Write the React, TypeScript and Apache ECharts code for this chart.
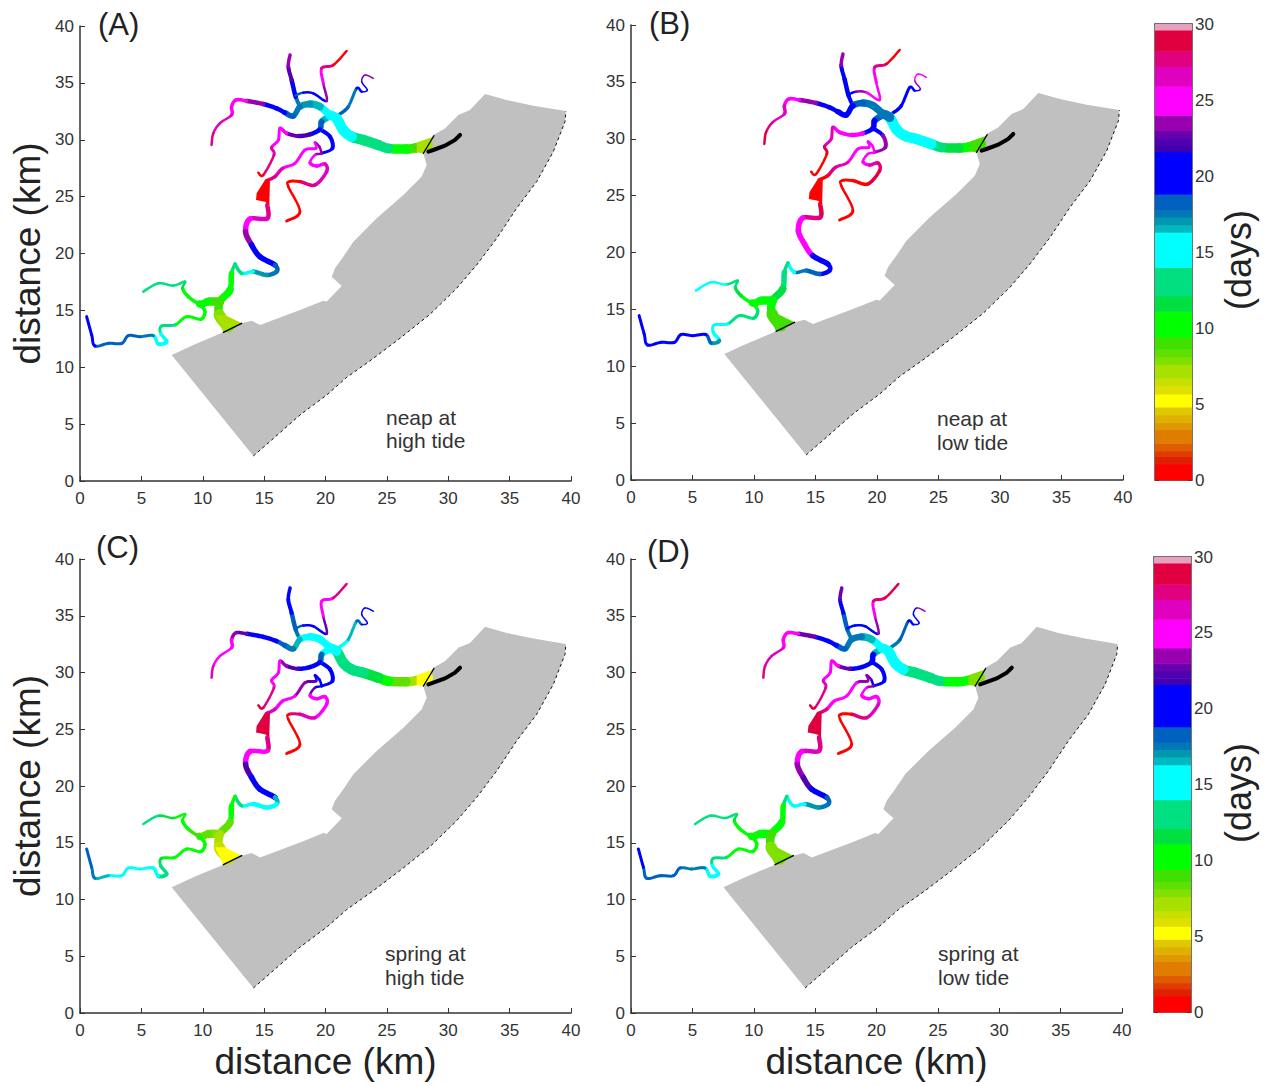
import React, { useEffect, useRef } from "react";
import * as echarts from "echarts";

const axisTicks = 5;
const panelNames = ["(A)", "(B)", "(C)", "(D)"];
const noteLines = [["neap at", "high tide"], ["neap at", "low tide"], ["spring at", "high tide"], ["spring at", "low tide"]];

// colour scale: lower edge of every band in days, and its colour
const bandEdges = [0, 1.05, 1.54, 1.93, 2.41, 3.33, 3.8, 4.3, 4.8, 5.66, 6.2, 6.7, 7.6, 8.1, 8.6, 9.4, 11.1, 12.1, 14, 16.3, 16.8, 17.3, 17.8, 18.8, 21.6, 22, 22.5, 23, 24, 25.9, 27.2, 28.2, 29.6, 30];
const bandColors = ["#ff0000", "#e02000", "#e03c00", "#e05c00", "#e07c00", "#e09800", "#e0b000", "#e0c800", "#ffff00", "#e0e000", "#c8e000", "#a8e000", "#80e000", "#60e000", "#40e000", "#00ff00", "#00e040", "#00e080", "#00ffff", "#00b8c0", "#0098b0", "#0078b8", "#0060c0", "#0000ff", "#4000b0", "#5000b0", "#6800b0", "#9800b0", "#ff00ff", "#e000c0", "#e00080", "#e00040", "#e8a0c0"];

// sea area outline, km
const seaEdge = [[14.12, 2.2], [15.62, 3.61], [17.92, 5.8], [20.1, 7.56], [21.73, 9.11], [23.9, 10.78], [26.07, 12.55], [28.51, 14.65], [30.69, 16.94], [32.32, 19.0], [33.95, 21.33], [35.57, 23.97], [37.2, 26.31], [38.56, 28.95], [39.51, 31.59], [39.59, 32.52]];
const seaCoast = [[36.93, 33.0], [34.76, 33.49], [33.0, 34.02], [31.77, 32.61], [30.82, 32.17], [29.73, 31.0], [28.78, 30.42], [27.97, 28.8], [28.24, 27.78], [27.83, 26.75], [26.34, 25.14], [24.17, 23.09], [22.27, 21.04], [21.45, 19.72], [20.77, 18.7], [20.5, 17.96], [21.32, 17.15], [20.1, 15.77], [19.83, 15.85], [17.92, 15.03], [14.67, 13.71], [13.99, 14.09], [13.17, 13.86], [11.68, 13.07], [9.23, 11.96], [7.47, 11.08]];
const seaOutline = [...seaEdge, ...seaCoast];

// river reaches: path in km, width per segment, days per segment for panels A B C D
const eastMainPath = [[28.38, 29.54], [27.43, 29.3], [26.56, 29.18], [25.12, 29.24], [24.3, 29.54], [23.08, 29.98], [22.13, 30.27], [21.45, 30.85], [20.9, 31.88], [20.36, 32.17]];
const eastMainWidth = [9, 9, 9, 9.5, 10, 10, 10, 10, 9];
const eastMainDays = [[7.5, 9, 10, 12.5, 13, 13.5, 15, 15, 15], [9, 10, 12, 13, 15, 15, 15, 15, 17.5], [5.5, 7.5, 8.5, 10, 12, 13, 13.5, 13, 15], [8, 9.5, 10, 12.2, 13, 13, 15, 15, 15]];

const northWestPath = [[20.36, 32.17], [19.55, 32.91], [18.74, 33.14], [17.92, 32.91], [17.38, 32.09], [16.7, 32.38], [16.02, 32.76], [14.93, 33.14], [13.58, 33.41], [12.71, 33.5], [12.35, 32.91], [12.35, 32.18], [11.4, 31.45], [10.86, 30.57], [10.72, 29.54]];
const northWestWidth = [7, 7, 6, 5, 5, 4, 4, 4, 3, 3, 3, 2, 2, 2];
const northWestDays = [[15, 16.5, 17, 17.5, 18.5, 20, 21, 23, 25, 25, 25, 26, 27, 28], [17.5, 17.5, 18.5, 20, 20, 20, 21, 23, 25, 25.5, 26, 27, 28, 29], [15, 15, 15.5, 16.5, 17.5, 18, 19, 20, 22.5, 23.5, 24.5, 25, 25, 26], [15, 16.5, 17.3, 17.5, 18, 20, 20, 22.5, 24.5, 25, 25, 26.5, 27, 28]];

const northOnePath = [[17.92, 32.91], [17.57, 33.79], [17.24, 35.25], [16.97, 36.43], [17.11, 37.45]];
const northOneWidth = [3.5, 4, 3.5, 3];
const northOneDays = [[17.5, 19, 22, 23], [20, 20, 20.5, 23.5], [17.5, 17.8, 19.5, 20], [17.5, 18, 20, 22.5]];

const northTwoPath = [[17.57, 33.9], [18.19, 34.14], [19.0, 34.08], [20.09, 33.41], [19.82, 34.96], [19.69, 36.28], [20.64, 36.57], [21.72, 37.8]];
const northTwoWidth = [2, 2, 2, 2, 2.5, 2.5, 2];
const northTwoDays = [[18, 19.5, 21, 23.5, 25.5, 28, 0.5], [21, 23, 24.5, 25.5, 25, 28, 0.5], [18, 19, 20.5, 22.5, 25, 25.5, 28], [19.5, 20, 20.5, 23, 25, 27.5, 28.5]];

const northEastPath = [[21.18, 32.27], [21.86, 32.91], [22.54, 34.52], [22.95, 34.23], [23.41, 34.37], [22.95, 35.11], [23.22, 35.69], [23.9, 35.4]];
const northEastWidth = [3, 2.5, 2, 1, 1, 1, 1];
const northEastDays = [[18, 17.5, 20, 20, 21, 22.8, 23.5], [20, 20, 20, 20.5, 23, 24, 25], [15.5, 16.5, 18, 20, 20, 20, 21], [17.5, 18, 19, 20, 21, 21.5, 23]];

const southOnePath = [[20.37, 32.09], [19.69, 31.59], [19.55, 30.92], [18.74, 30.48], [17.79, 30.33], [16.84, 30.57], [16.29, 31.0], [16.16, 29.98], [15.61, 29.31], [15.8, 28.66], [14.93, 26.9], [14.53, 27.1]];
const southOneWidth = [6, 5, 4, 4, 3.5, 3, 2.5, 2.5, 2.5, 2, 2];
const southOneDays = [[16.5, 18.5, 20, 21.7, 22.5, 24, 25, 25.5, 26.5, 28, 0.5], [18, 20, 20, 24.5, 25, 25.5, 26.5, 27, 28.5, 0.5, 0.5], [15.5, 18, 20, 20, 22, 23.5, 25, 25, 25.5, 27.5, 28.5], [16.6, 19, 20, 20.5, 22.5, 24.5, 25, 25, 26, 27.5, 28.5]];

const southTwoPath = [[19.55, 30.92], [20.37, 30.27], [20.56, 29.25], [19.69, 28.81], [19.14, 28.66], [18.74, 27.99], [19.28, 27.69], [19.96, 27.87], [20.09, 27.2], [19.14, 26.02], [17.92, 26.32], [17.05, 26.32], [16.97, 25.88], [17.92, 23.68], [16.84, 22.86]];
const southTwoWidth = [3.5, 3.5, 2.5, 2, 2, 3, 3, 3, 3, 3, 2.5, 2, 2, 2.5];
const southTwoDays = [[20, 20, 21, 23, 24.5, 25, 25.5, 26, 27, 28, 0.5, 0.5, 0.5, 0.5], [20.5, 23, 23.5, 24.5, 25, 25.5, 26.5, 27.5, 28.5, 0.5, 0.5, 0.5, 0.5, 0.5], [19, 20, 20, 21, 22.5, 24, 25, 25, 25, 26, 28, 0.5, 0.5, 0.5], [20, 20, 20.5, 23, 24.5, 25, 25, 25, 26.5, 27.5, 0.5, 0.5, 0.5, 0.5]];

const southThreePath = [[19.69, 28.81], [19.5, 29.39], [19.14, 29.75], [19.23, 29.25], [18.33, 29.1], [17.51, 27.93], [16.51, 27.49], [15.88, 26.76], [15.2, 26.4]];
const southThreeWidth = [2, 2, 2, 2.5, 2.5, 2.5, 3, 3];
const southThreeDays = [[23, 23, 24, 25, 25, 25.5, 26, 28], [24, 24.5, 25, 25.5, 25.5, 26, 28, 0.5], [20, 20, 20.5, 22.5, 23, 24.5, 25, 27], [21, 22.5, 23, 23.5, 24.5, 25, 25.5, 28]];

const middlePath = [[15.26, 24.27], [15.26, 23.09], [13.85, 23.04], [13.49, 21.92], [13.98, 20.75], [14.66, 19.72], [15.88, 18.99], [16.02, 18.41], [15.2, 18.11], [14.12, 18.41], [13.17, 18.26], [12.63, 19.08]];
const middleWidth = [4, 4, 5, 5, 5, 5, 4, 4, 4, 3, 3];
const middleDays = [[28, 26.5, 25, 23.3, 21, 19.5, 18, 17.5, 16.8, 15, 13], [28.5, 27.5, 25.5, 25, 24, 20, 20, 19, 18.5, 17.5, 15], [27.5, 25.5, 24.5, 22, 21, 20, 16.7, 15, 15, 15, 13.5], [28, 26.5, 25, 23.5, 22, 20, 18, 17.5, 17, 15, 14]];

const southEstuaryPath = [[12.63, 19.08], [12.35, 18.26], [12.22, 16.8], [11.4, 15.77], [11.35, 14.6], [12.08, 13.57]];
const southEstuaryWidth = [3, 5, 7, 8, 11];
const southEstuaryDays = [[12.5, 10, 10, 9, 8], [13, 12.5, 11.5, 10, 9], [11, 10, 8.5, 7.5, 6.5], [13.5, 10, 10, 9, 8]];

const westOnePath = [[11.4, 15.77], [10.45, 15.77], [9.77, 15.56], [8.82, 16.21], [8.36, 16.94], [8.55, 17.53], [7.6, 17.18], [6.38, 17.38], [5.16, 16.65]];
const westOneWidth = [8, 7, 3, 3, 2, 2, 2, 2];
const westOneDays = [[9, 9.5, 10, 10.5, 11.5, 12.5, 13, 13.5], [10, 10, 10, 11.5, 12.5, 13, 15, 15.5], [8, 8.5, 9, 10, 10, 10.5, 11.5, 12.5], [10, 10, 10, 11, 11.5, 12.5, 12.8, 13.5]];

const westTwoPath = [[9.77, 15.56], [10.18, 14.89], [9.83, 14.22], [8.69, 14.45], [7.74, 13.72], [6.65, 13.63], [6.57, 12.99], [7.06, 12.25], [6.38, 12.05], [5.97, 12.78], [4.89, 12.69], [3.94, 12.78], [3.4, 12.1], [2.31, 12.1], [1.22, 11.87], [0.95, 12.84], [0.54, 14.45]];
const westTwoWidth = [3, 3, 2.5, 2.5, 2.5, 2.5, 3, 3.5, 3, 2.5, 2.5, 2.5, 2.5, 2.5, 2.5, 2.5];
const westTwoDays = [[10, 10, 10.5, 11, 13, 13.5, 14.5, 15, 15.5, 17.5, 18, 18.2, 18.5, 18.5, 20, 20.5], [11, 12.5, 13, 13, 14, 15, 15, 17, 18, 19, 20, 20, 20, 20, 20, 20], [9.5, 10, 10.5, 10, 10.5, 12, 13, 13.5, 15, 15, 15, 15, 15, 16.5, 17.5, 18], [10, 10, 10, 11, 12.5, 13, 14, 15, 15.5, 17.5, 17.5, 17.8, 18, 18, 18.5, 20]];

const reaches = [
  [westOnePath, westOneWidth, westOneDays],
  [westTwoPath, westTwoWidth, westTwoDays],
  [middlePath, middleWidth, middleDays],
  [southEstuaryPath, southEstuaryWidth, southEstuaryDays],
  [northOnePath, northOneWidth, northOneDays],
  [northTwoPath, northTwoWidth, northTwoDays],
  [northEastPath, northEastWidth, northEastDays],
  [southThreePath, southThreeWidth, southThreeDays],
  [southTwoPath, southTwoWidth, southTwoDays],
  [southOnePath, southOneWidth, southOneDays],
  [northWestPath, northWestWidth, northWestDays],
  [eastMainPath, eastMainWidth, eastMainDays],
] as const;

// filled water bodies: outline in km and days for panels A B C D
const lakeOutline = [[15.07, 26.46], [15.48, 26.52], [15.42, 24.27], [15.07, 24.56], [14.34, 24.71], [14.39, 25.29]];
const lakeDays = [0.5, 0.5, 29, 29];
const southMouthOutline = [[11.0, 14.6], [11.81, 14.6], [13.17, 13.86], [11.68, 13.07]];
const southMouthDays = [7, 8.8, 5.5, 7.6];
const eastMouthOutline = [[28.78, 30.27], [27.97, 28.8], [27.43, 28.9], [27.43, 29.75]];
const eastMouthDays = [7.2, 9, 5.5, 8];

const blackLines = [
  [[11.68, 13.07], [13.17, 13.86]],
  [[27.97, 28.8], [28.84, 30.36]],
  [[28.38, 28.95], [28.78, 29.1], [29.73, 29.48], [30.55, 29.98], [30.96, 30.42]],
];
const blackWidths = [1.5, 1.2, 4];

const dayColor = (v: number) => {
  for (let i = bandColors.length - 1; i >= 0; i--) if (v >= bandEdges[i]) return bandColors[i];
  return bandColors[0];
};

const FONT = "Liberation Sans";
const INK = "#333";
const panels = [
  { left: 80, top: 26, width: 491, height: 455, tag: [98, 24], note: [386, 417, 440], shift: 0, xName: false, yName: true },
  { left: 631, top: 25, width: 492, height: 455, tag: [649, 23], note: [937, 418, 442], shift: 0.12, xName: false, yName: false },
  { left: 80, top: 559, width: 491, height: 454, tag: [96, 547], note: [385, 953, 977], shift: 0, xName: true, yName: true },
  { left: 631, top: 559, width: 491, height: 454, tag: [647, 551], note: [938, 953, 977], shift: 0.06, xName: true, yName: false },
];
const bars = [
  { left: 1155, top: 24, width: 37, height: 456 },
  { left: 1154, top: 557, width: 37, height: 455 },
];

// rounded curve through a river segment, drawn from its neighbours on screen
const curve = (a: number[], b: number[], c: number[], d: number[]) => {
  const out: number[][] = [];
  for (let s = 0; s <= 8; s++) {
    const t = s / 8;
    const t2 = t * t;
    const t3 = t2 * t;
    out.push([0, 1].map((n) => 0.5 * (2 * b[n] + (c[n] - a[n]) * t + (2 * a[n] - 5 * b[n] + 4 * c[n] - d[n]) * t2 + (3 * b[n] - a[n] - 3 * c[n] + d[n]) * t3)));
  }
  return out;
};

function buildOption() {
  const grid: any[] = [];
  const xAxis: any[] = [];
  const yAxis: any[] = [];
  const series: any[] = [];
  const graphic: any[] = [];

  panels.forEach((p, i) => {
    grid.push({ left: p.left, top: p.top, width: p.width, height: p.height, outerBoundsMode: "none" });
    const common = {
      gridIndex: i,
      type: "value",
      min: 0,
      max: 40,
      interval: axisTicks,
      splitLine: { show: false },
      axisTick: { inside: true, length: 5, lineStyle: { color: INK, width: 1 } },
      axisLine: { onZero: false, lineStyle: { color: INK, width: 1.5 } },
      nameLocation: "middle",
      nameTextStyle: { color: "#222", fontFamily: FONT, fontSize: 37 },
    };
    const label = { color: INK, fontFamily: FONT, fontSize: 17, hideOverlap: false };
    xAxis.push({ ...common, axisLabel: { ...label, margin: 9 }, name: p.xName ? "distance (km)" : "", nameGap: 30 });
    yAxis.push({ ...common, axisLabel: { ...label, margin: 6 }, name: p.yName ? "distance (km)" : "", nameGap: 34 });

    const sx = p.shift;
    series.push({
      type: "custom",
      xAxisIndex: i,
      yAxisIndex: i,
      clip: false,
      silent: true,
      z: 2,
      data: seaOutline,
      encode: { x: 0, y: 1 },
      renderItem: (params: any, api: any) =>
        params.dataIndex === 0
          ? { type: "polygon", shape: { points: seaOutline.map((q) => api.coord([q[0] + sx, q[1]])) }, style: { fill: "#c0c0c0" } }
          : null,
    });
    series.push({
      type: "line",
      xAxisIndex: i,
      yAxisIndex: i,
      silent: true,
      z: 3,
      showSymbol: false,
      data: seaEdge.map((q) => [q[0] + sx, q[1]]),
      lineStyle: { color: "#111", width: 1, type: [3, 3] },
    });

    const rows: number[][] = [];
    reaches.forEach(([path, width, days]) => {
      for (let k = 0; k + 1 < path.length; k++) {
        const a = path[Math.max(0, k - 1)];
        const b = path[k];
        const c = path[k + 1];
        const d = path[Math.min(path.length - 1, k + 2)];
        rows.push([b[0] + sx, b[1], c[0] + sx, c[1], days[i][k], width[k], a[0] + sx, a[1], d[0] + sx, d[1]]);
      }
    });
    series.push({
      type: "custom",
      xAxisIndex: i,
      yAxisIndex: i,
      clip: false,
      silent: true,
      z: 4,
      data: rows,
      encode: { x: [0, 2], y: [1, 3] },
      renderItem: (_: any, api: any) => ({
        type: "polyline",
        shape: {
          points: curve(
            api.coord([api.value(6), api.value(7)]),
            api.coord([api.value(0), api.value(1)]),
            api.coord([api.value(2), api.value(3)]),
            api.coord([api.value(8), api.value(9)])
          ),
        },
        style: { fill: null, stroke: dayColor(api.value(4)), lineWidth: api.value(5) + 0.5, lineCap: "round", lineJoin: "round" },
      }),
    });

    const blobs = [
      [lakeOutline, lakeDays[i]],
      [southMouthOutline, southMouthDays[i]],
      [eastMouthOutline, eastMouthDays[i]],
    ] as const;
    series.push({
      type: "custom",
      xAxisIndex: i,
      yAxisIndex: i,
      clip: false,
      silent: true,
      z: 5,
      data: blobs.map((b) => [b[0][0][0], b[0][0][1]]),
      encode: { x: 0, y: 1 },
      renderItem: (params: any, api: any) => {
        const b = blobs[params.dataIndex];
        return { type: "polygon", shape: { points: b[0].map((q) => api.coord([q[0] + sx, q[1]])) }, style: { fill: dayColor(b[1]) } };
      },
    });
    series.push({
      type: "custom",
      xAxisIndex: i,
      yAxisIndex: i,
      clip: false,
      silent: true,
      z: 6,
      data: blackLines.map((b) => [b[0][0], b[0][1]]),
      encode: { x: 0, y: 1 },
      renderItem: (params: any, api: any) => ({
        type: "polyline",
        shape: { points: blackLines[params.dataIndex].map((q) => api.coord([q[0] + sx, q[1]])) },
        style: { fill: null, stroke: "#000", lineWidth: blackWidths[params.dataIndex], lineCap: "round" },
      }),
    });

    graphic.push({ type: "text", x: p.tag[0], y: p.tag[1], style: { text: panelNames[i], font: `31px "${FONT}"`, fill: "#222", verticalAlign: "middle" } });
    noteLines[i].forEach((t, n) => {
      graphic.push({ type: "text", x: p.note[0], y: p.note[n + 1], style: { text: t, font: `21px "${FONT}"`, fill: "#333", verticalAlign: "middle" } });
    });
  });

  bars.forEach((b, j) => {
    const g = panels.length + j;
    grid.push({ left: b.left, top: b.top, width: b.width, height: b.height, outerBoundsMode: "none" });
    const axisX = { gridIndex: g, type: "value", min: 0, max: 1, show: true, axisLabel: { show: false }, axisTick: { show: false }, splitLine: { show: false }, axisLine: { onZero: false, lineStyle: { color: "#444", width: 1.5 } } };
    xAxis.push({ ...axisX, position: "bottom" });
    xAxis.push({ ...axisX, position: "top" });
    const axisY = {
      gridIndex: g,
      type: "value",
      min: 0,
      max: 30,
      interval: axisTicks,
      splitLine: { show: false },
      axisTick: { inside: true, length: 4, lineStyle: { color: INK, width: 1 } },
      axisLine: { onZero: false, lineStyle: { color: "#444", width: 1.5 } },
    };
    yAxis.push({ ...axisY, position: "left", axisLabel: { show: false } });
    yAxis.push({ ...axisY, position: "right", axisLabel: { color: INK, fontFamily: FONT, fontSize: 17, margin: 3, padding: [0, 0, 3, 0] } });
    const xIdx = xAxis.length - 2;
    const yIdx = yAxis.length - 2;
    series.push({
      type: "custom",
      xAxisIndex: xIdx,
      yAxisIndex: yIdx,
      silent: true,
      z: 1,
      data: bandColors.map((_, k) => [0, bandEdges[k], 1, bandEdges[k + 1]]),
      encode: { x: [0, 2], y: [1, 3] },
      renderItem: (params: any, api: any) => {
        const a = api.coord([0, api.value(1)]);
        const c = api.coord([1, api.value(3)]);
        return { type: "rect", shape: { x: a[0], y: c[1], width: c[0] - a[0], height: a[1] - c[1] + 0.5 }, style: { fill: bandColors[params.dataIndex] } };
      },
    });
    graphic.push({
      type: "text",
      x: 1238,
      y: b.top + 236,
      rotation: Math.PI / 2,
      style: { text: "(days)", font: `36px "${FONT}"`, fill: "#222", align: "center", verticalAlign: "middle" },
    });
  });

  return { animation: false, backgroundColor: "#fff", grid, xAxis, yAxis, series, graphic };
}

export default function App() {
  const ref = useRef<HTMLDivElement>(null);
  useEffect(() => {
    document.body.style.margin = "0";
    const chart = echarts.init(ref.current!, undefined, { renderer: "svg" });
    chart.setOption(buildOption() as any);
    return () => chart.dispose();
  }, []);
  return <div ref={ref} style={{ width: 1266, height: 1086 }} />;
}
